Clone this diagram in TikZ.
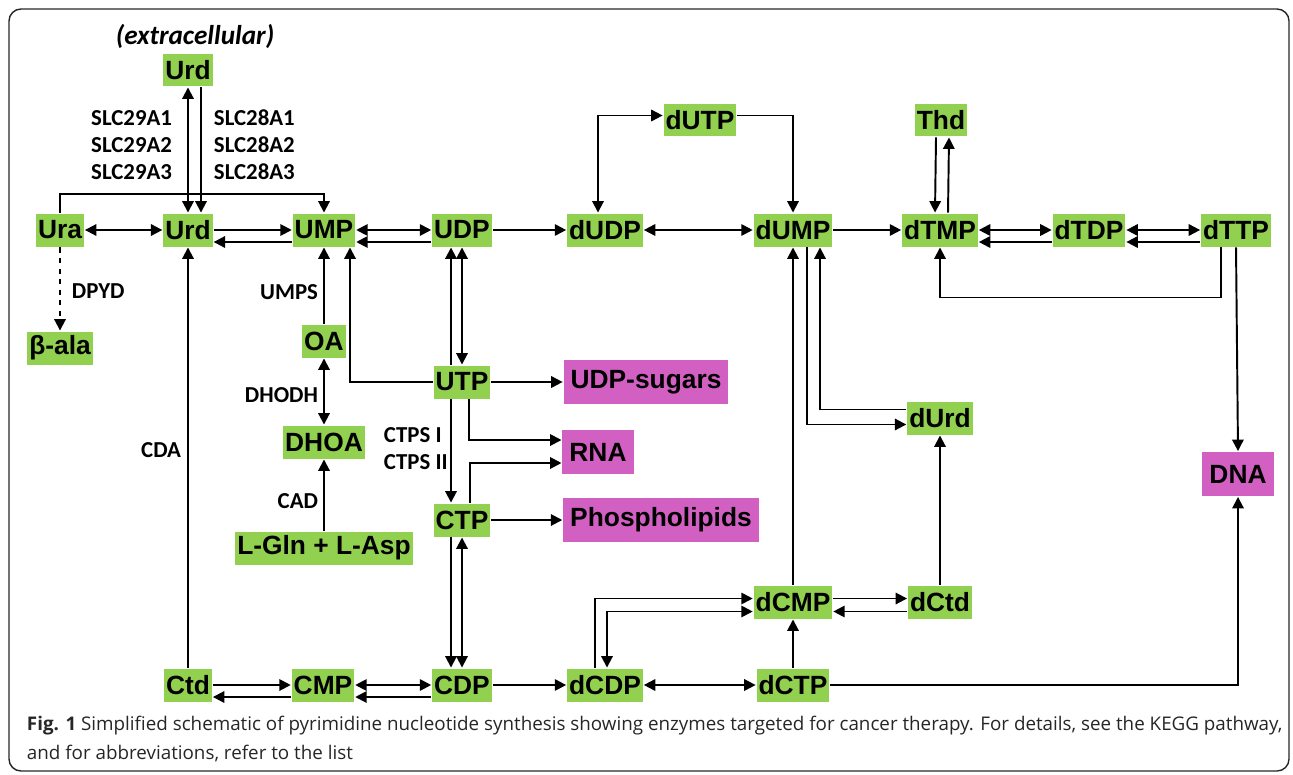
\documentclass[tikz,border=0pt]{standalone}
\usepackage{fontspec}
\setmainfont{Liberation Sans}
\newfontfamily\labelfont{Carlito}
\newfontfamily\captionfont{Open Sans}
\usetikzlibrary{arrows.meta, positioning}
\definecolor{metgreen}{HTML}{92D050}
\definecolor{prodpink}{HTML}{D260C2}

\begin{document}
\begin{tikzpicture}[x=0.02cm, y=-0.02cm, >={Triangle[length=6.5pt, width=6.5pt]}, line width=1.1pt,
    met/.style={fill=metgreen, inner xsep=0.04cm, inner ysep=0pt, minimum height=0.66cm, font=\fontsize{15}{15}\selectfont\bfseries},
    prod/.style={fill=prodpink, inner xsep=0.14cm, inner ysep=0pt, minimum height=0.88cm, font=\fontsize{15}{15}\selectfont\bfseries},
    enz/.style={inner sep=0pt, font=\labelfont\fontsize{13}{15.4}\selectfont\bfseries}]
    \useasboundingbox (0,0) rectangle (1293,774);
    \draw[rounded corners=0.24cm, line width=0.8pt, black!85] (9,9) rectangle (1289,771);

    \node[enz, font=\labelfont\fontsize{15.5}{16}\selectfont\bfseries\itshape] (extra) at (195,36) {(extracellular)};
    \node[met] (urdx) at (188,70) {Urd};
    \node[met] (ura) at (60,230) {Ura};
    \node[met] (urd) at (188,230) {Urd};
    \node[met] (ump) at (324,230) {UMP};
    \node[met] (udp) at (462,230) {UDP};
    \node[met] (dudp) at (605,230) {dUDP};
    \node[met] (dutp) at (700,120) {dUTP};
    \node[met] (dump) at (793,230) {dUMP};
    \node[met] (thd) at (941,120) {Thd};
    \node[met] (dtmp) at (940,230) {dTMP};
    \node[met] (dtdp) at (1089,230) {dTDP};
    \node[met] (dttp) at (1236,230) {dTTP};
    \node[met] (bala) at (60,348) {β-ala};
    \node[met] (oa) at (324,341) {OA};
    \node[met] (dhoa) at (324,442) {DHOA};
    \node[met] (glnasp) at (324,548) {L-Gln + L-Asp};
    \node[met] (utp) at (462,382) {UTP};
    \node[met] (ctp) at (462,520) {CTP};
    \node[prod] (udpsug) at (646,382) {UDP-sugars};
    \node[prod] (rna) at (598,452) {RNA};
    \node[prod] (phos) at (661,520) {Phospholipids};
    \node[prod] (dna) at (1238,474) {DNA};
    \node[met] (durd) at (940,418) {dUrd};
    \node[met] (dcmp) at (793,602) {dCMP};
    \node[met] (dctd) at (940,602) {dCtd};
    \node[met] (dctp) at (793,685) {dCTP};
    \node[met] (dcdp) at (605,685) {dCDP};
    \node[met] (ctd) at (188,685) {Ctd};
    \node[met] (cmp) at (323,685) {CMP};
    \node[met] (cdp) at (462,685) {CDP};

    \node[enz, anchor=east, align=right] (slcnine) at (173,145) {SLC29A1\\SLC29A2\\SLC29A3};
    \node[enz, anchor=west, align=left] (slceight) at (213,145) {SLC28A1\\SLC28A2\\SLC28A3};
    \node[enz, anchor=west] (dpyd) at (71,291) {DPYD};
    \node[enz, anchor=east] (umps) at (319,292) {UMPS};
    \node[enz, anchor=east] (dhodh) at (319,395) {DHODH};
    \node[enz, anchor=east] (cda) at (182,450) {CDA};
    \node[enz, anchor=east] (cad) at (319,501) {CAD};
    \node[enz, anchor=west, align=left] (ctps) at (383,449) {CTPS I\\CTPS II};

    \draw[<->] (urdx.south) -- (urd.north);
    \draw[->] ([xshift=0.26cm]urdx.south) -- ([xshift=0.26cm]urd.north);
    \draw[->] (ura.north) -- ++(0,-19) -| (ump.north);
    \draw[<->] (ura.east) -- (urd.west);
    \draw[->] (urd.east) -- (ump.west);
    \draw[->] ([yshift=-0.24cm]ump.west) -- ([yshift=-0.24cm]urd.east);
    \draw[<->] (ump.east) -- (udp.west);
    \draw[->] ([yshift=-0.24cm]udp.west) -- ([yshift=-0.24cm]ump.east);
    \draw[->] (udp.east) -- (dudp.west);
    \draw[<->] (dudp.east) -- (dump.west);
    \draw[<->] ([xshift=-0.14cm]dudp.north) |- ([yshift=0.09cm]dutp.west);
    \draw[->] ([yshift=0.09cm]dutp.east) -| (dump.north);
    \draw[->] (dump.east) -- (dtmp.west);
    \draw[->] ([xshift=-0.1cm]thd.south) -- ([xshift=-0.1cm]dtmp.north);
    \draw[->] ([xshift=0.16cm]dtmp.north) -- ([xshift=0.16cm]thd.south);
    \draw[<->] (dtmp.east) -- (dtdp.west);
    \draw[->] ([yshift=-0.24cm]dtdp.west) -- ([yshift=-0.24cm]dtmp.east);
    \draw[<->] (dtdp.east) -- (dttp.west);
    \draw[->] ([yshift=-0.24cm]dttp.west) -- ([yshift=-0.24cm]dtdp.east);
    \draw[->] ([xshift=-0.3cm]dttp.south) -- ++(0,50) -| (dtmp.south);
    \draw[->] (dttp.south) -- (dna.north);

    \draw[->, dashed] (ura.south) -- (bala.north);
    \draw[->] (oa.north) -- (ump.south);
    \draw[<->] (oa.south) -- (dhoa.north);
    \draw[->] (glnasp.north) -- (dhoa.south);
    \draw[->] (ctd.north) -- (urd.south);
    \draw[->] (utp.west) -| ([xshift=0.52cm]ump.south);
    \draw[->] ([xshift=-0.22cm]utp.north) -- ([xshift=-0.22cm]udp.south);
    \draw[<->] (utp.north) -- (udp.south);
    \draw[->] (utp.east) -- (udpsug.west);
    \draw[->] ([xshift=0.14cm]utp.south) |- ([yshift=0.24cm]rna.west);
    \draw[->] ([xshift=0.16cm]ctp.north) |- ([yshift=-0.22cm]rna.west);
    \draw[->] ([xshift=-0.22cm]utp.south) -- ([xshift=-0.22cm]ctp.north);
    \draw[->] (ctp.east) -- (phos.west);
    \draw[->] ([xshift=-0.22cm]ctp.south) -- ([xshift=-0.22cm]cdp.north);
    \draw[<->] (ctp.south) -- (cdp.north);

    \draw[->] (ctd.east) -- (cmp.west);
    \draw[->] ([yshift=-0.24cm]cmp.west) -- ([yshift=-0.24cm]ctd.east);
    \draw[<->] (cmp.east) -- (cdp.west);
    \draw[->] ([yshift=-0.24cm]cdp.west) -- ([yshift=-0.24cm]cmp.east);
    \draw[->] (cdp.east) -- (dcdp.west);
    \draw[<->] (dcdp.east) -- (dctp.west);
    \draw[->] (dctp.north) -- (dcmp.south);
    \draw[->] ([xshift=-0.2cm]dcdp.north) |- ([yshift=0.07cm]dcmp.west);
    \draw[<->] ([yshift=-0.19cm]dcmp.west) -| ([xshift=0.04cm]dcdp.north);
    \draw[->] ([yshift=0.07cm]dcmp.east) -- ([yshift=0.07cm]dctd.west);
    \draw[->] ([yshift=-0.19cm]dctd.west) -- ([yshift=-0.19cm]dcmp.east);
    \draw[->] (dcmp.north) -- (dump.south);
    \draw[->] ([xshift=0.28cm]dump.south) |- ([yshift=-0.13cm]durd.west);
    \draw[->] ([yshift=0.17cm]durd.west) -| ([xshift=0.54cm]dump.south);
    \draw[->] (dctd.north) -- (durd.south);
    \draw[->] (dctp.east) -| (dna.south);

    \node[anchor=west, align=left, inner sep=0pt, text=black!85, font=\captionfont\fontsize{10.7}{16.5}\selectfont] (caption) at (26,739)
      {\textbf{Fig. 1} Simplified schematic of pyrimidine nucleotide synthesis showing enzymes targeted for cancer therapy. For details, see the KEGG pathway,\\and for abbreviations, refer to the list};
\end{tikzpicture}
\end{document}
